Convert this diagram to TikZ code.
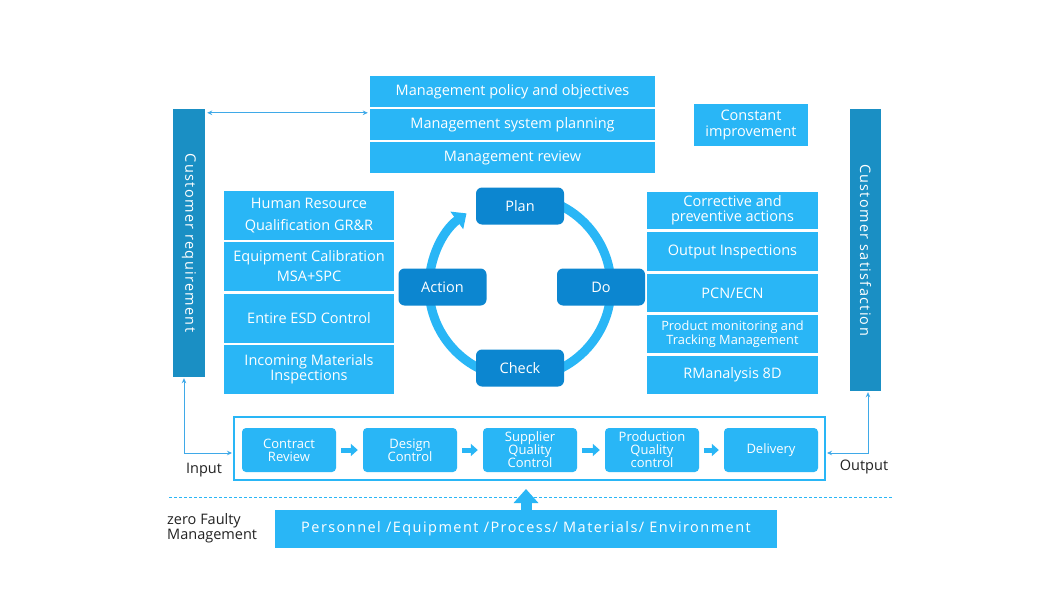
\documentclass[tikz,border=0pt]{standalone}
\usepackage{fontspec}
\setmainfont{Open Sans}
\usetikzlibrary{arrows.meta}
\definecolor{lb}{HTML}{29B6F6}
\definecolor{barc}{HTML}{1A8FC4}
\definecolor{pdc}{HTML}{0C86D0}
\definecolor{linec}{HTML}{3FA9E8}
\definecolor{txt}{HTML}{222222}
\newcommand\bx[7]{\node[#6, minimum width={#4-#2}, minimum height={#5-#3}] (#1) at ({(#2+#4)/2},{(#3+#5)/2}) {#7};}
\begin{document}
\begin{tikzpicture}[x=1pt,y=-1pt,
  lbox/.style={fill=lb, text=white, inner sep=0pt, align=center, font=\fontsize{14.5}{16}\selectfont},
  sk/.style={font=\fontsize{14.5}{#1}\selectfont},
  bar/.style={fill=barc, inner sep=0pt},
  bartext/.style={text=white, inner sep=0pt, font=\fontsize{14.5}{16}\selectfont\addfontfeature{LetterSpace=9}},
  pdca/.style={fill=pdc, text=white, rounded corners=6pt, inner sep=0pt, minimum width=88, minimum height=37, font=\fontsize{14.5}{16}\selectfont},
  ring/.style={draw=lb, line width=9pt, -{Triangle[length=12pt, width=21pt]}},
  framebox/.style={draw=lb, line width=2pt, inner sep=0pt},
  stepbox/.style={fill=lb, text=white, rounded corners=4pt, inner sep=0pt, align=center, font=\fontsize{13}{13}\selectfont},
  blk/.style={draw=lb, line width=5pt, -{Triangle[length=7pt, width=12pt]}, shorten <=5pt, shorten >=5pt},
  thinarr/.style={draw=linec, line width=1pt, {Stealth[length=5pt,width=4.5pt]}-{Stealth[length=5pt,width=4.5pt]}},
  dashline/.style={draw=lb, line width=1pt, dash pattern=on 3pt off 2pt},
  uparr/.style={draw=lb, line width=11pt, -{Triangle[length=14pt, width=24pt]}, shorten >=8pt},
  lbl/.style={text=txt, inner sep=0pt, font=\fontsize{14.5}{15}\selectfont}
]
\useasboundingbox[fill=white] (0,0) rectangle (1059,607);

% top management boxes
\bx{mp}{370}{76}{655}{107}{lbox}{Management policy and objectives}
\bx{ms}{370}{109}{655}{140}{lbox}{Management system planning}
\bx{mr}{370}{142}{655}{173}{lbox}{Management review}
\bx{ci}{694}{104}{808}{146}{lbox, sk=16.7}{Constant\\improvement}

% side bars
\bx{lbar}{173}{109}{205}{377}{bar}{}
\node[bartext, rotate=-90] (lbt) at (lbar.center) {Customer requirement};
\bx{rbar}{850}{109}{881}{391}{bar}{}
\node[bartext, rotate=-90] (rbt) at (rbar.center) {Customer satisfaction};

% left column
\bx{hr}{224}{191}{394}{240}{lbox, sk=22}{Human Resource\\Qualification GR\&R}
\bx{eq}{224}{242}{394}{291}{lbox, sk=20}{Equipment Calibration\\MSA+SPC}
\bx{esd}{224}{294}{394}{343}{lbox}{Entire ESD Control}
\bx{inc}{224}{345}{394}{394}{lbox, sk=13}{Incoming Materials\\Inspections}

% right column
\bx{ca}{647}{192}{818}{229}{lbox, sk=15}{Corrective and\\preventive actions}
\bx{oi}{647}{232}{818}{271}{lbox}{Output Inspections}
\bx{pcn}{647}{274}{818}{312}{lbox}{PCN/ECN}
\bx{pm}{647}{315}{818}{353}{lbox, font=\fontsize{12.8}{11.5}\selectfont}{Product monitoring and\\Tracking Management}
\bx{rm}{647}{356}{818}{394}{lbox}{RManalysis 8D}

% PDCA ring
\coordinate (cc) at (520,287);
\draw[ring] (cc) ++(-90:91) arc[start angle=-90, end angle=234, radius=91];
\node[pdca] (plan) at (520,206) {Plan};
\node[pdca] (do) at (601,287) {Do};
\node[pdca] (act) at (442.5,287) {Action};
\node[pdca] (chk) at (520,368) {Check};

% bottom process
\bx{frame}{234}{417}{825}{480}{framebox}{}
\bx{cr}{242}{428}{336}{472}{stepbox}{Contract\\Review}
\bx{dc}{363}{428}{457}{472}{stepbox}{Design\\Control}
\bx{sq}{483}{428}{577}{472}{stepbox}{Supplier\\Quality\\Control}
\bx{pq}{605}{428}{699}{472}{stepbox}{Production\\Quality\\control}
\bx{dl}{724}{428}{818}{472}{stepbox}{Delivery}
\draw[blk] (cr) -- (dc);
\draw[blk] (dc) -- (sq);
\draw[blk] (sq) -- (pq);
\draw[blk] (pq) -- (dl);

% connectors
\draw[thinarr] ([shift={(2,4)}]lbar.north east) -- ([shift={(-2,4)}]ms.north west);
\draw[thinarr] ([shift={(-5,1)}]lbar.south) |- ([shift={(-1,4.5)}]frame.west);
\draw[thinarr] ([shift={(1,4.5)}]frame.east) -| ([shift={(2.5,1)}]rbar.south);

% dashed separator
\coordinate (d1) at (169,497);
\coordinate (d2) at (892,497);
\draw[dashline] (d1) -- (d2);

% personnel box and up arrow
\bx{pers}{275}{510}{777}{548}{lbox, font=\fontsize{14.5}{16}\selectfont\addfontfeature{LetterSpace=10}}{Personnel /Equipment /Process/ Materials/ Environment}
\draw[uparr] (pers.north) -- (pers.north |- frame.south);

% labels
\node[lbl, anchor=west, align=left] (zf) at (167,528) {zero Faulty\\Management};
\node[lbl] (inp) at (204,470) {Input};
\node[lbl] (outp) at (864,467) {Output};
\end{tikzpicture}
\end{document}
